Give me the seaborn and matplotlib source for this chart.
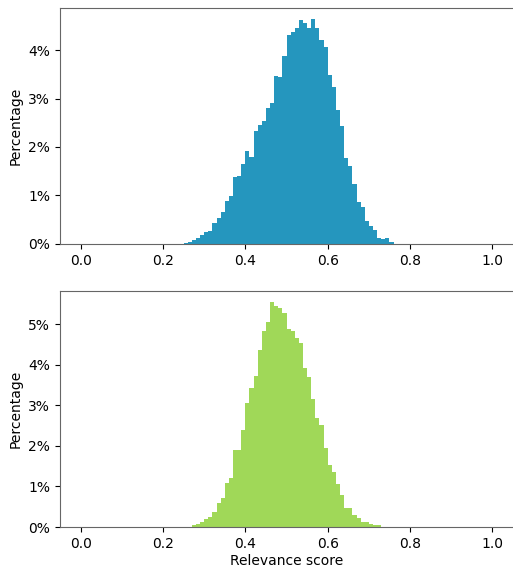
import numpy as np
import pandas as pd
import matplotlib
matplotlib.use("Agg")
import matplotlib.pyplot as plt
import seaborn as sns
from matplotlib.ticker import PercentFormatter

# percentage of samples per 0.01-wide relevance score bin (0.00 .. 1.00)
bin_width = 0.01
score_range = (0.0, 1.0)

top_pct = [0.0] * 25 + [
    0.02, 0.04, 0.07, 0.11, 0.19, 0.25, 0.27, 0.43, 0.54, 0.65,
    0.88, 0.99, 1.39, 1.40, 1.64, 1.91, 1.80, 2.34, 2.45, 2.53,
    2.80, 2.90, 3.46, 3.44, 3.88, 4.32, 4.37, 4.46, 4.62, 4.56,
    4.46, 4.64, 4.45, 4.21, 4.06, 3.48, 3.23, 2.76, 2.43, 1.77,
    1.60, 1.24, 0.86, 0.75, 0.48, 0.37, 0.28, 0.13, 0.10, 0.11,
    0.04,
] + [0.0] * 24

bottom_pct = [0.01] * 27 + [
    0.04, 0.07, 0.12, 0.21, 0.25, 0.37, 0.59, 0.71, 1.08, 1.21,
    1.90, 1.90, 2.39, 3.07, 3.44, 3.72, 4.36, 4.83, 5.05, 5.54,
    5.45, 5.40, 5.27, 4.89, 4.83, 4.65, 4.53, 3.92, 3.69, 3.15,
    2.70, 2.51, 1.95, 1.53, 1.35, 1.06, 0.80, 0.48, 0.48, 0.30,
    0.22, 0.12, 0.12, 0.07, 0.05, 0.04,
] + [0.01] * 27

top_color = '#2596be'
bottom_color = '#a0d858'


def draw_hist(ax, pct, color, xlabel):
    n = len(pct)
    centers = score_range[0] + bin_width * (np.arange(n) + 0.5)
    df = pd.DataFrame({'score': centers, 'pct': np.array(pct) / 100})
    sns.histplot(data=df, x='score', weights='pct', binwidth=bin_width,
                 binrange=score_range, color=color, alpha=1, linewidth=0,
                 ax=ax)
    ax.yaxis.set_major_formatter(PercentFormatter(1.0, decimals=0))
    ax.set_ylabel('Percentage')
    ax.set_xlabel(xlabel, labelpad=2.5)
    for s in ax.spines.values():
        s.set_color('0.4')
    # the figure edge cuts the right frame off in the original
    ax.spines['right'].set_visible(False)


fig = plt.figure(figsize=(5.13, 5.67), dpi=100)
ax1 = fig.add_axes([0.117, 0.570, 0.883, 0.416])
ax2 = fig.add_axes([0.117, 0.0705, 0.883, 0.416])

draw_hist(ax1, top_pct, top_color, '')
draw_hist(ax2, bottom_pct, bottom_color, 'Relevance score')

fig.savefig('out.png', dpi=100)
